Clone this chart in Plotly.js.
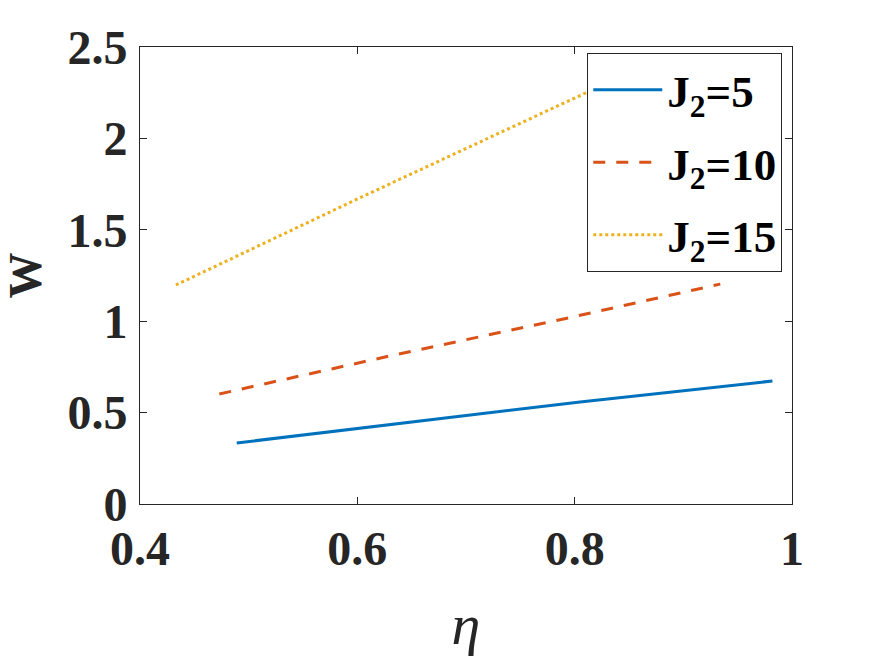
<!DOCTYPE html>
<html>
<head>
<meta charset="utf-8">
<script src="https://cdn.plot.ly/plotly-3.0.1.min.js"></script>
<style>html,body{margin:0;padding:0;background:#fff;}#chart{width:875px;height:657px;}</style>
</head>
<body>
<div id="chart"></div>
<script>
const seriesNames = ['J<sub>2</sub>=5', 'J<sub>2</sub>=10', 'J<sub>2</sub>=15'];
const etaJ5 = [0.489, 0.621, 0.805, 0.982];
const wJ5 = [0.334, 0.427, 0.558, 0.673];
const etaJ10 = [0.473, 0.630, 0.798, 0.934];
const wJ10 = [0.602, 0.810, 1.023, 1.203];
const etaJ15 = [0.433, 0.602, 0.808, 0.880];
const wJ15 = [1.198, 1.674, 2.243, 2.440];
const xTicks = [0.4, 0.6, 0.8, 1];
const xTickText = ['0.4', '0.6', '0.8', '1'];
const yTicks = [0, 0.5, 1, 1.5, 2, 2.5];
const yTickText = ['0', '0.5', '1', '1.5', '2', '2.5'];

const serif = '"Liberation Serif", "Times New Roman", serif';
const traces = [
  {x: etaJ5, y: wJ5, name: seriesNames[0], legendgroup: 'a', mode: 'lines', line: {color: '#0072BD', width: 3}},
  {x: etaJ10, y: wJ10, name: seriesNames[1], legendgroup: 'b', mode: 'lines', line: {color: '#D95319', width: 3, dash: '12px,11px'}},
  {x: etaJ15, y: wJ15, name: seriesNames[2], legendgroup: 'c', mode: 'lines', line: {color: '#EDB120', width: 3, dash: '3px,3px'}}
];
const axisCommon = {
  showline: true, linecolor: '#262626', linewidth: 1, mirror: 'ticks',
  ticks: 'inside', ticklen: 7, tickcolor: '#262626', showgrid: false, zeroline: false,
  tickfont: {family: serif, size: 48, color: '#262626', weight: 'bold'}
};
const layout = {
  width: 875, height: 657,
  margin: {l: 140, r: 83, t: 47, b: 153},
  paper_bgcolor: '#fff', plot_bgcolor: '#fff',
  showlegend: true,
  xaxis: Object.assign({}, axisCommon, {
    range: [0.4, 1], tickvals: xTicks, ticktext: xTickText, ticklabelstandoff: 2,
    title: {text: 'η', font: {family: serif, size: 58, color: '#262626', style: 'italic'}, standoff: 30}
  }),
  yaxis: Object.assign({}, axisCommon, {
    range: [0, 2.5], tickvals: yTicks, ticktext: yTickText, ticklabelstandoff: 2,
    title: {text: 'W', font: {family: serif, size: 46, color: '#262626', weight: 'bold'}, standoff: 14}
  }),
  legend: {
    x: 0.686, y: 0.987, xanchor: 'left', yanchor: 'top',
    bgcolor: '#fff', bordercolor: '#262626', borderwidth: 1,
    itemwidth: 69, tracegroupgap: 11,
    font: {family: serif, size: 45, color: '#000', weight: 'bold'}
  }
};
Plotly.newPlot('chart', traces, layout, {displayModeBar: false, staticPlot: true});
</script>
</body>
</html>
